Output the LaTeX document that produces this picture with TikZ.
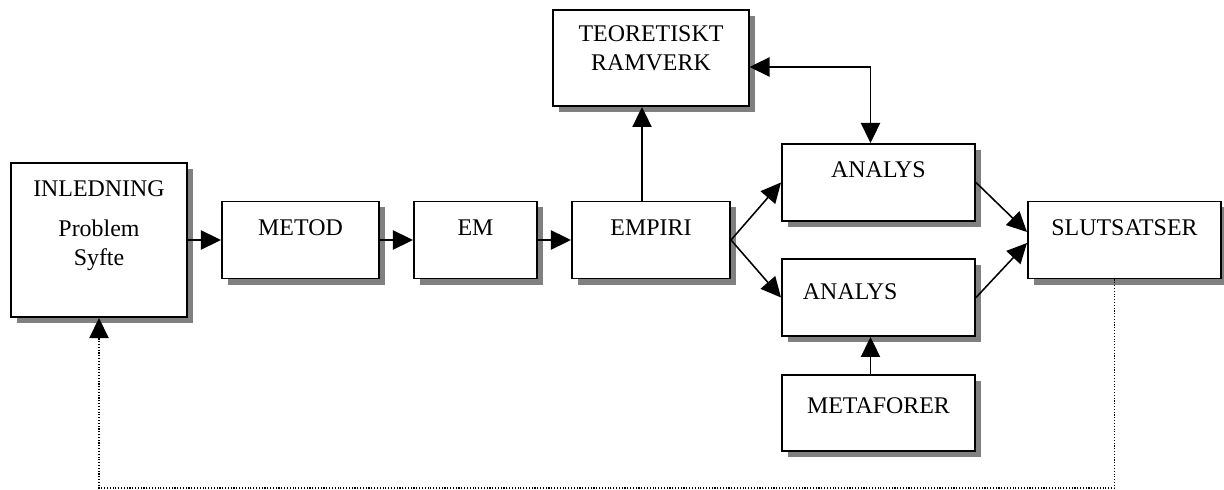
\documentclass[tikz,border=0pt]{standalone}
\usepackage{fontspec}
\setmainfont{Liberation Serif}
\usetikzlibrary{arrows.meta,shadows,calc}

\begin{document}
\begin{tikzpicture}[x=0.025cm,y=-0.025cm,
  font=\fontsize{17}{20}\selectfont,
  >={Triangle[length=0.5cm,width=0.48cm]},
  box/.style={draw,line width=1.4pt,fill=white,inner sep=0pt,
    drop shadow={shadow xshift=0.15cm,shadow yshift=-0.15cm,fill=black!50,opacity=1}},
  single/.style={text height=0.85cm,text depth=1.075cm},
  arr/.style={line width=1.1pt,->}]
\useasboundingbox (0,0) rectangle (1224,490);
% draw boxes
\node[box,minimum width=4.4cm,text height=0.85cm,text depth=3cm] (inl) at (99,240)
  {\begin{tabular}[t]{@{}c@{}}INLEDNING\\[8.4pt]Problem\\Syfte\end{tabular}};
\node[box,single,minimum width=3.925cm] (metod) at (300.5,240) {METOD};
\node[box,single,minimum width=3.075cm] (em) at (475.5,240) {EM};
\node[box,single,minimum width=3.95cm] (empiri) at (651,240) {EMPIRI};
\node[box,minimum width=4.875cm,text height=0.8cm,text depth=1.6cm] (teo) at (651,58)
  {\begin{tabular}[t]{@{}c@{}}TEORETISKT\\RAMVERK\end{tabular}};
\node[box,single,minimum width=4.825cm] (ana1) at (878.5,182.5) {ANALYS};
\node[box,minimum width=4.825cm,text height=1.025cm,text depth=0.9cm,
  text width=3.775cm,inner xsep=0.525cm,align=left] (ana2) at (878.5,297.5) {ANALYS};
\node[box,minimum width=4.825cm,text height=0.975cm,text depth=0.925cm] (meta) at (878.5,413) {METAFORER};
\node[box,single,minimum width=4.825cm] (slut) at (1124.5,240) {SLUTSATSER};
% draw connections
\draw[arr] (inl.east) -- (metod.west);
\draw[arr] (metod.east) -- (em.west);
\draw[arr] (em.east) -- (empiri.west);
\draw[arr] ($(empiri.north)+(-9,0)$) -- ($(teo.south)+(-9,0)$);
\draw[arr] (empiri.east) -- (ana1.west);
\draw[arr] (empiri.east) -- (ana2.west);
\draw[line width=1.1pt,<->] ($(teo.east)+(0,9)$) -| ($(ana1.north)+(-8,0)$);
\draw[arr] ($(meta.north)+(-8,0)$) -- ($(ana2.south)+(-8,0)$);
\draw[arr] (ana1.east) -- ($(slut.west)+(0,-8)$);
\draw[arr] (ana2.east) -- ($(slut.west)+(0,3)$);
% draw feedback loop
\coordinate (fb) at (0,488);
\draw[line width=0.9pt,dash pattern=on 0.8pt off 1.2pt,->] ($(slut.south)+(-10,0)$) |- (fb -| inl.south) -- (inl.south);
\end{tikzpicture}
\end{document}
